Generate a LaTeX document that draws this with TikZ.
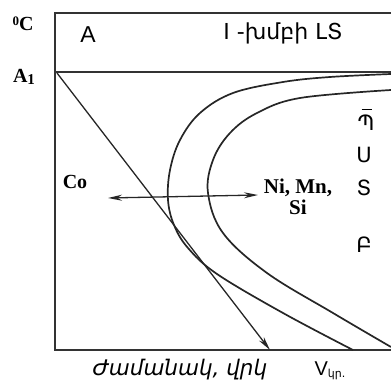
\documentclass[tikz,border=0pt]{standalone}
\usepackage{fontspec}
\setmainfont{Liberation Serif}
\setsansfont{Liberation Sans}
\newfontfamily\armfont{DejaVu Sans}
\usetikzlibrary{arrows.meta}

\begin{document}
\begin{tikzpicture}[x=1pt, y=-1pt, font=\fontsize{19}{21}\selectfont, >={Stealth[length=14pt, width=6pt]},
  frame/.style={draw=black!80, line width=1.5pt},
  curve/.style={draw=black!85, line width=1.7pt},
  chem/.style={font=\fontsize{20}{22}\selectfont\bfseries, inner sep=0pt, align=center},
  arm/.style={font=\fontsize{21}{22}\selectfont\armfont, inner sep=0pt},
  ray/.style={line width=1.3pt, draw=black!85}]
\useasboundingbox (0,0) rectangle (391,390);
% axes and A1 level
\draw[frame] (391,13) -- (55,13) -- (55,350) -- (391,350);
\draw[frame] (55,72) -- (391,72);
% start and end of transformation
\draw[curve] plot[smooth, tension=0.6] coordinates {(391,74) (330,77) (283,82) (233,93) (200,113) (180,140) (170,170) (168,200) (174,225) (188,248) (217,274) (283,313) (353,350)};
\draw[curve] plot[smooth, tension=0.6] coordinates {(391,90) (300,98) (257,113) (230,133) (213,160) (208,193) (223,233) (267,273) (333,313) (391,347)};
% labels
\node[chem] (deg) at (23,24) {\raisebox{5pt}{\fontsize{13}{13}\selectfont 0}C};
\node[chem] (a1) at (24,77) {A\raisebox{-1.5pt}{\fontsize{15}{15}\selectfont 1}};
\node[inner sep=0pt, font=\fontsize{23}{23}\selectfont\sffamily] (aus) at (88,35) {A};
\node[arm, font=\fontsize{22}{22}\selectfont\armfont] (grp) at (283,33) {I -խմբի ԼՏ};
\node[chem] (co) at (75,182) {Co};
\node[chem, font=\fontsize{21}{21}\selectfont\bfseries] (nimn) at (298,197) {Ni, Mn,\\Si};
\node[arm] (p) at (366,120) {\makebox[0pt][l]{\hspace{4pt}\raisebox{21pt}{\rule{10pt}{0.9pt}}}Պ};
\node[arm] (s) at (364,155) {Ս};
\node[arm] (t) at (364,188) {Տ};
\node[arm] (b) at (364,245) {Բ};
\node[arm, font=\fontsize{21.5}{22}\selectfont\armfont\itshape] (time) at (180,370) {Ժամանակ, վրկ};
\node[inner sep=0pt, font=\fontsize{20}{21}\selectfont\sffamily] (vkr) at (330,371) {V\raisebox{-2pt}{\armfont\fontsize{11}{11}\selectfont կր.}};
% cooling rate and alloying shift
\coordinate (c0) at (57,73);
\coordinate (c1) at (270,350);
\draw[ray, ->] (c0) -- (c1);
\coordinate (l) at (108,198);
\coordinate (r) at (258,195);
\draw[ray, <->] (l) -- (r);
\end{tikzpicture}
\end{document}
